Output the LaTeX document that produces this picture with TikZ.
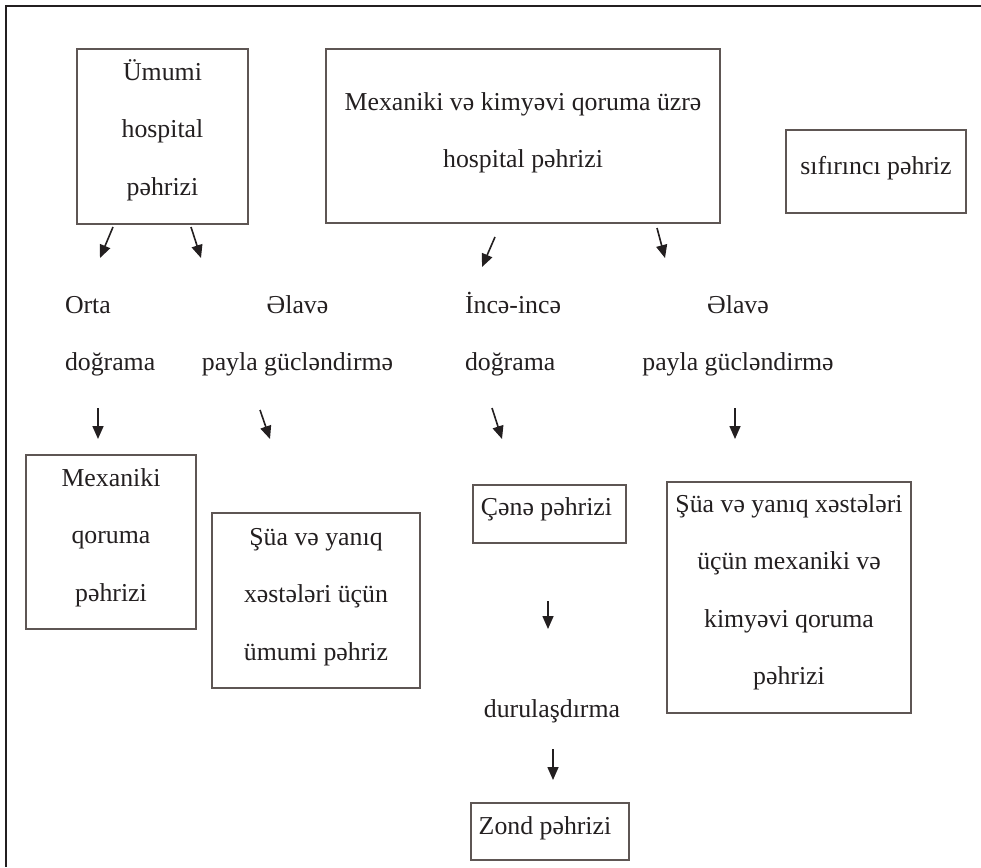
\documentclass[tikz,border=0pt]{standalone}
\usepackage{fontspec}
\setmainfont{Liberation Serif}
\usetikzlibrary{arrows.meta}
\definecolor{ink}{HTML}{231F20}
\definecolor{boxline}{HTML}{5E5654}
\newcommand\dfont{\fontsize{25.8}{57.5}\selectfont}
\newcommand\bxt[4]{\begin{minipage}[c][#2][t]{#1}\dfont\centering\vspace*{#3}\rule{0pt}{24pt}#4\end{minipage}}
\begin{document}
\begin{tikzpicture}[x=1pt,y=-1pt,
  every node/.style={text=ink,font=\dfont},
  dbox/.style={draw=boxline,line width=1.6pt,inner sep=0pt,outer sep=0pt},
  dtext/.style={inner sep=0pt,outer sep=0pt},
  darr/.style={draw=ink,line width=1.6pt,-{Triangle[length=13pt,width=11pt]}}]
\useasboundingbox (0,0) rectangle (981,867);
\fill[white] (0,0) rectangle (981,867);
% frame
\draw[ink,line width=2.4pt] (981,6) -- (6,6) -- (6,867);
% boxes
\node[dbox] (umumi) at (162.5,136.5) {\bxt{171pt}{175pt}{7pt}{Ümumi\\hospital\\pəhrizi}};
\node[dbox] (mexkim) at (523,136) {\bxt{394pt}{174pt}{37pt}{Mexaniki və kimyəvi qoruma üzrə\\hospital pəhrizi}};
\node[dbox] (sifir) at (876,171.5) {\bxt{180pt}{83pt}{20pt}{sıfırıncı pəhriz}};
\node[dbox] (mexqor) at (111,542) {\bxt{170pt}{174pt}{7pt}{Mexaniki\\qoruma\\pəhrizi}};
\node[dbox] (suaum) at (316,600.5) {\bxt{208pt}{175pt}{8pt}{Şüa və yanıq\\xəstələri üçün\\ümumi pəhriz}};
\node[dbox] (cene) at (549.5,514) {\bxt{153pt}{58pt}{6pt}{Çənə pəhrizi\kern6pt}};
\node[dbox] (suamex) at (789,597.5) {\bxt{244pt}{231pt}{6pt}{Şüa və yanıq xəstələri\\üçün mexaniki və\\kimyəvi qoruma\\pəhrizi}};
\node[dbox] (zond) at (550,831.5) {\bxt{158pt}{57pt}{7pt}{Zond pəhrizi\kern10pt}};
% free texts
\node[dtext,anchor=north west,align=left] (orta) at (65,289) {\rule{0pt}{24pt}Orta\\doğrama};
\node[dtext,anchor=north,align=center] (elave1) at (297.5,289) {\rule{0pt}{24pt}Əlavə\\payla gücləndirmə};
\node[dtext,anchor=north west,align=left] (ince) at (465,289) {\rule{0pt}{24pt}İncə-incə\\doğrama};
\node[dtext,anchor=north,align=center] (elave2) at (738,289) {\rule{0pt}{24pt}Əlavə\\payla gücləndirmə};
\node[dtext,anchor=base] (durul) at (552,717) {durulaşdırma};
% arrow end points
\coordinate (a1s) at (113,227); \coordinate (a1e) at (100,258);
\coordinate (a2s) at (191,227); \coordinate (a2e) at (201,258);
\coordinate (a3s) at (495,237); \coordinate (a3e) at (482,267);
\coordinate (a4s) at (657,228); \coordinate (a4e) at (665,258);
\coordinate (a5s) at (98,408);  \coordinate (a5e) at (98,439);
\coordinate (a6s) at (260,410); \coordinate (a6e) at (270,439);
\coordinate (a7s) at (492,408); \coordinate (a7e) at (502,439);
\coordinate (a8s) at (735,408); \coordinate (a8e) at (735,439);
\coordinate (a9s) at (548,601); \coordinate (a9e) at (548,629);
\coordinate (a10s) at (553,749); \coordinate (a10e) at (553,780);
\foreach \i in {1,...,10} {\draw[darr] (a\i s) -- (a\i e);}
\end{tikzpicture}
\end{document}
